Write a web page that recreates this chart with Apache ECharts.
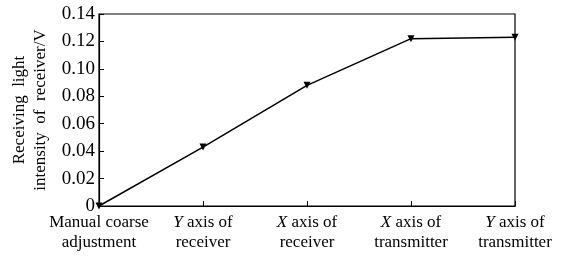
<!DOCTYPE html>
<html>
<head>
<meta charset="utf-8">
<script src="https://cdn.jsdelivr.net/npm/echarts@6/dist/echarts.min.js"></script>
<style>
  html, body { margin: 0; padding: 0; background: #fff; }
  #chart { width: 561px; height: 256px; }
</style>
</head>
<body>
<div id="chart"></div>
<script>
// stages of the alignment procedure
const categories = [
  'Manual coarse\nadjustment',
  'Y axis of\nreceiver',
  'X axis of\nreceiver',
  'X axis of\ntransmitter',
  'Y axis of\ntransmitter'
];
// receiving light intensity (V)
const intensity = [0, 0.043, 0.088, 0.122, 0.123];

const yMin = 0, yMax = 0.14, yStep = 0.02;
const serif = '"Liberation Serif", "Times New Roman", serif';

const chart = echarts.init(document.getElementById('chart'));

const option = {
  animation: false,
  backgroundColor: '#fff',
  grid: {
    left: 99, right: 46, top: 14, bottom: 50,
    outerBoundsMode: 'none',
    containLabel: false,
    show: true, borderColor: '#000', borderWidth: 1.2
  },
  xAxis: {
    type: 'category',
    data: categories,
    boundaryGap: false,
    axisLine: { lineStyle: { color: '#000', width: 1.2 } },
    axisTick: { inside: true, length: 5, lineStyle: { color: '#000' } },
    axisLabel: {
      color: '#000', fontFamily: serif, fontSize: 17, lineHeight: 20, margin: 7,
      interval: 0,
      formatter: function (v) {
        // italic X / Y at the start
        return v.replace(/^([XY]) /, '{i|$1} ');
      },
      rich: {
        i: { fontStyle: 'italic', fontFamily: serif, fontSize: 17, color: '#000' }
      }
    },
    splitLine: { show: false }
  },
  yAxis: {
    type: 'value',
    min: yMin, max: yMax, interval: yStep,
    name: 'Receiving  light\nintensity  of  receiver/V',
    nameLocation: 'middle',
    nameGap: 44,
    nameTextStyle: { color: '#000', fontFamily: serif, fontSize: 17, lineHeight: 21 },
    axisLine: { show: true, lineStyle: { color: '#000', width: 1.2 } },
    axisTick: { show: true, inside: true, length: 5, lineStyle: { color: '#000' } },
    axisLabel: {
      color: '#000', fontFamily: serif, fontSize: 19, margin: 4,
      formatter: function (v) { return v === 0 ? '0' : v.toFixed(2); }
    },
    splitLine: { show: false }
  },
  series: [{
    type: 'line',
    data: intensity,
    symbol: 'triangle',
    symbolRotate: 180,
    symbolSize: 7,
    showAllSymbol: true,
    lineStyle: { color: '#000', width: 1.5 },
    itemStyle: { color: '#000' }
  }]
};

chart.setOption(option);
</script>
</body>
</html>
